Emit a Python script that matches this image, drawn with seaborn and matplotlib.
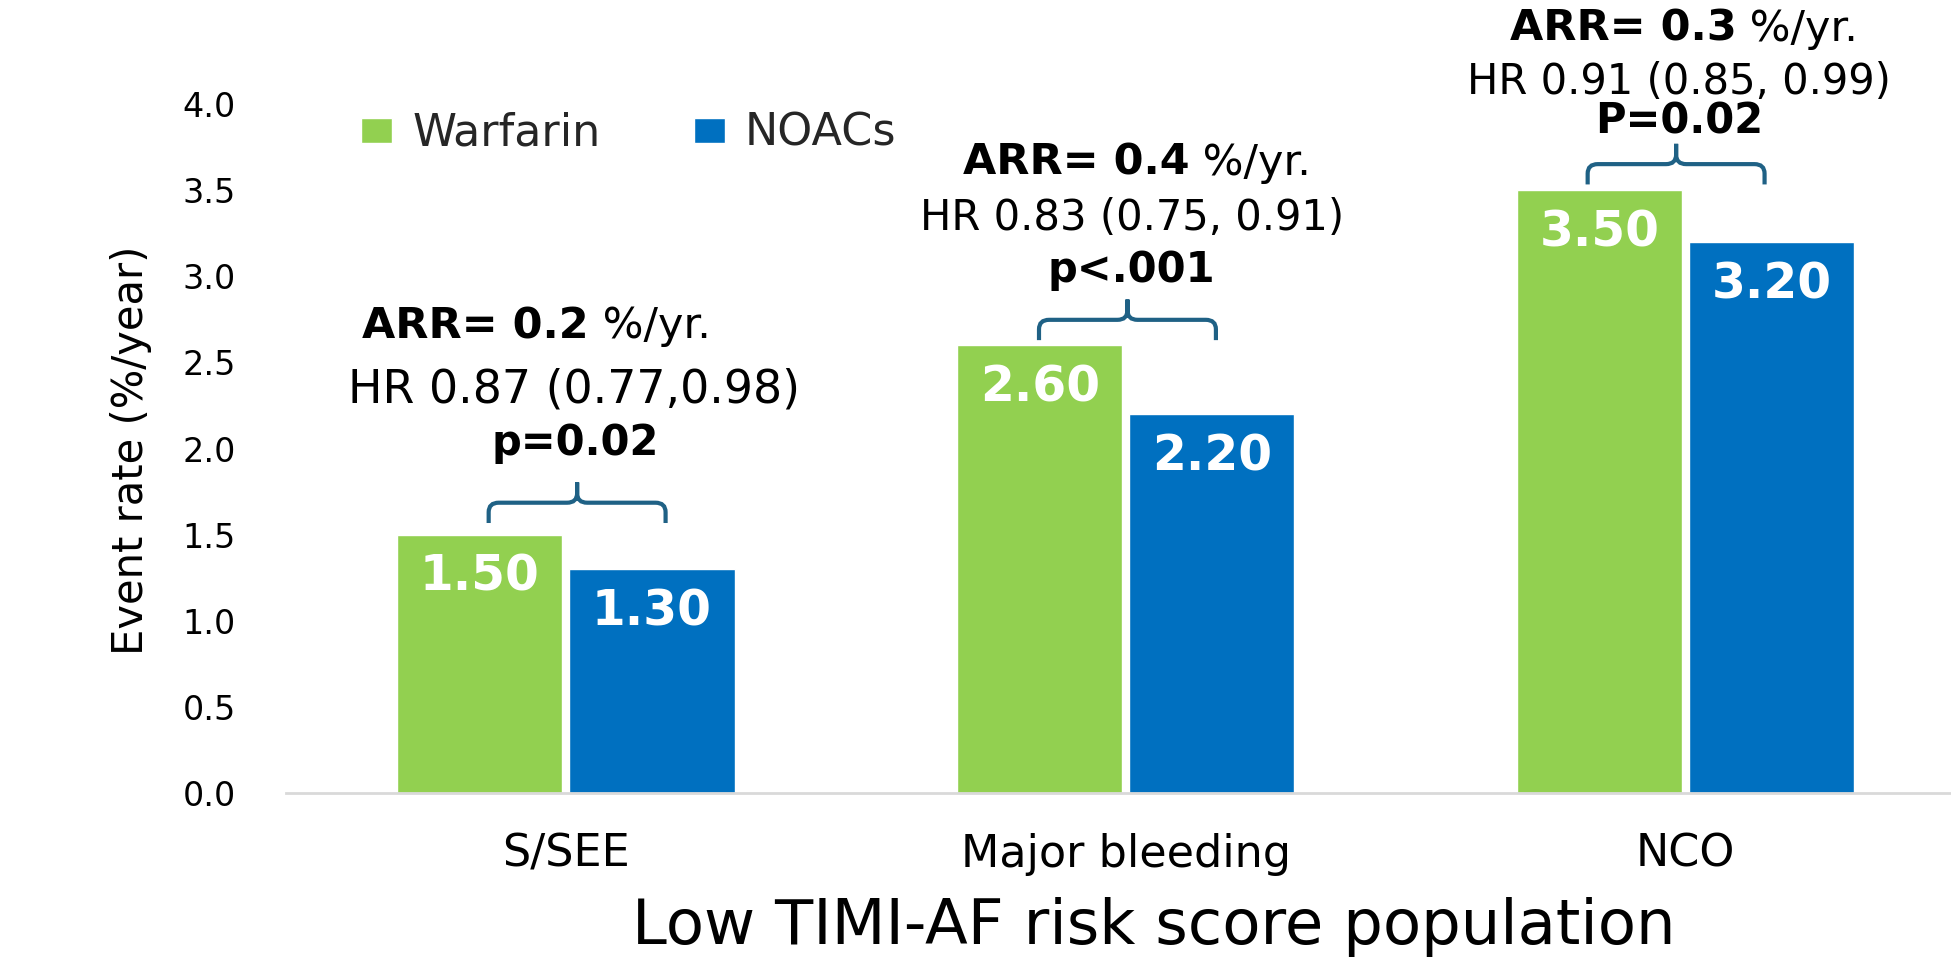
import numpy as np
import pandas as pd
import matplotlib
matplotlib.use("Agg")
import matplotlib.pyplot as plt
import seaborn as sns
from matplotlib.path import Path
from matplotlib.patches import PathPatch
from matplotlib.offsetbox import TextArea, HPacker, AnnotationBbox

# --- DATA ---
categories = ["S/SEE", "Major bleeding", "NCO"]
series_names = ["Warfarin", "NOACs"]
warfarin = [1.50, 2.60, 3.50]
noacs = [1.30, 2.20, 3.20]
y_ticks = [0.0, 0.5, 1.0, 1.5, 2.0, 2.5, 3.0, 3.5, 4.0]

arr_values = ["0.2", "0.4", "0.3"]
hr_labels = ["HR 0.87 (0.77,0.98)", "HR 0.83 (0.75, 0.91)", "HR 0.91 (0.85, 0.99)"]
p_labels = ["p=0.02", "p<.001", "P=0.02"]

# --- LAYOUT (annotation placement, data units) ---
arr_y = [2.71, 3.66, 4.44]
arr_dx = [-0.053, 0.02, -0.003]
hr_y = [2.34, 3.34, 4.13]
hr_dx = [0.015, 0.012, -0.012]
hr_size = [33, 30, 30]
p_y = [2.03, 3.04, 3.90]
p_dx = [0.016, 0.01, -0.012]
brace_dx = [0.02, 0.003, -0.017]
brace_gap = [0.067, 0.03, 0.035]

C_GREEN = "#92D050"
C_BLUE = "#0070C0"
C_BRACE = "#1F6185"
C_AXIS = "#D9D9D9"

df = pd.DataFrame({
    "outcome": categories * 2,
    "rate": warfarin + noacs,
    "treatment": [series_names[0]] * len(categories) + [series_names[1]] * len(categories),
})

sns.set_theme(style="white")
plt.rcParams["font.family"] = ["DejaVu Sans"]

W, H = 1951, 967
fig = plt.figure(figsize=(W / 100, H / 100), dpi=100, facecolor="white")
ax = fig.add_axes([286 / W, 1 - 792.6 / H, 1 - 286 / W, 792.6 / H])

sns.barplot(data=df, x="outcome", y="rate", hue="treatment",
            palette=[C_GREEN, C_BLUE], saturation=1, errorbar=None,
            width=0.615, gap=0.04, ax=ax)

ax.set_xlim(-0.5, 2.474)
ax.set_ylim(0, 4.607)
ax.set_yticks(y_ticks)
ax.set_yticklabels([f"{t:.1f}" for t in y_ticks])
ax.tick_params(axis="y", length=0, pad=36, labelsize=24, labelcolor="black")
ax.tick_params(axis="x", length=0, pad=29, labelsize=32, labelcolor="black")

for s in ["top", "right", "left"]:
    ax.spines[s].set_visible(False)
ax.spines["bottom"].set_color(C_AXIS)
ax.spines["bottom"].set_linewidth(2)

# axis titles
ax.set_xlabel("")
ax.set_ylabel("Event rate (%/year)", fontsize=30, color="black")
ax.yaxis.set_label_coords(-0.0931, 0.432)
ax.yaxis.label.set_va("center")
fig.text(0.5915, 0.0414, "Low TIMI-AF risk score population", fontsize=45,
         ha="center", va="center", color="black")

# legend
handles, labels = ax.get_legend_handles_labels()
ax.legend(handles, labels, loc="center left", bbox_to_anchor=(361 / W, 1 - 133.5 / H),
          bbox_transform=fig.transFigure, ncol=2, frameon=False, fontsize=32,
          handlelength=0.70, handleheight=0.5, handletextpad=0.45,
          columnspacing=2.1, borderpad=0, borderaxespad=0)

# value labels inside the bars
for cont in ax.containers:
    for rect in cont:
        h = rect.get_height()
        ax.text(rect.get_x() + rect.get_width() / 2, h - 0.245, f"{h:.2f}",
                ha="center", va="center", color="white", fontsize=35, fontweight="bold")


def draw_brace(ax, xc, hw, y0, color):
    y1 = y0 + 0.118
    yt = y0 + 0.236
    rx, ry = 0.018, 0.055
    M, L, C = Path.MOVETO, Path.LINETO, Path.CURVE3
    verts, codes = [], []
    for sgn in (-1, 1):
        xe = xc + sgn * hw
        verts += [(xe, y0), (xe, y1 - ry), (xe, y1), (xe - sgn * rx, y1),
                  (xc + sgn * rx, y1), (xc, y1), (xc, y1 + ry), (xc, yt)]
        codes += [M, L, C, C, L, C, C, L]
    ax.add_patch(PathPatch(Path(verts, codes), fill=False, edgecolor=color,
                           lw=3, clip_on=False, zorder=4))


for i, cat in enumerate(categories):
    top = max(warfarin[i], noacs[i])
    draw_brace(ax, i + brace_dx[i], 0.158, top + brace_gap[i], C_BRACE)

    arr = HPacker(children=[
        TextArea(f"ARR= {arr_values[i]}", textprops=dict(fontsize=31, fontweight="bold", color="black")),
        TextArea(" %/yr.", textprops=dict(fontsize=31, color="black")),
    ], sep=0, pad=0, align="baseline")
    ax.add_artist(AnnotationBbox(arr, (i + arr_dx[i], arr_y[i]), xycoords="data",
                                 frameon=False, box_alignment=(0.5, 0.5), pad=0,
                                 annotation_clip=False))
    ax.text(i + hr_dx[i], hr_y[i], hr_labels[i], ha="center", va="center",
            fontsize=hr_size[i], color="black")
    ax.text(i + p_dx[i], p_y[i], p_labels[i], ha="center", va="center",
            fontsize=30, fontweight="bold", color="black")

fig.savefig("out.png", dpi=100, facecolor="white")
